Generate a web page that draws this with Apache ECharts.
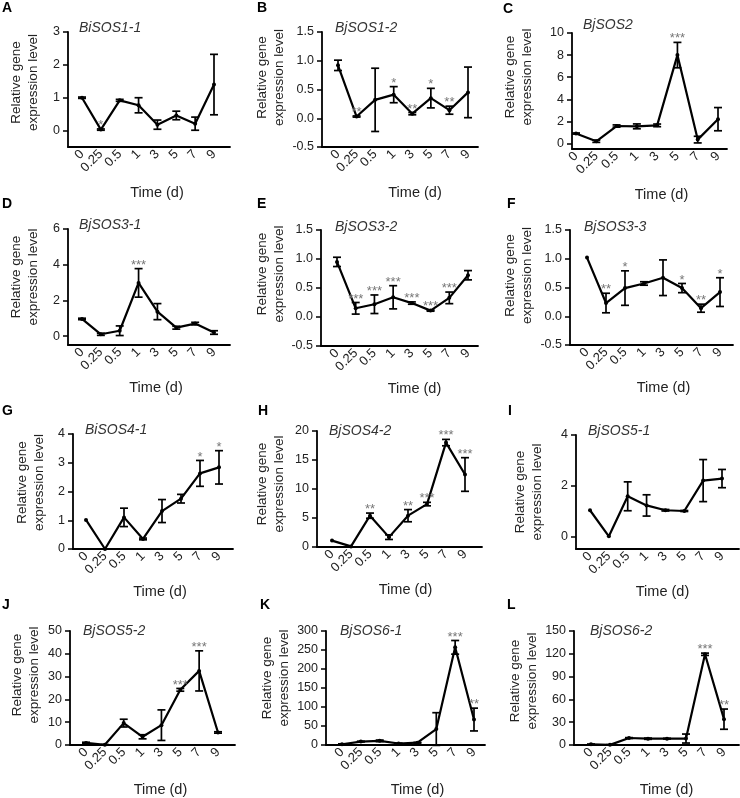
<!DOCTYPE html>
<html>
<head>
<meta charset="utf-8">
<script src="https://cdn.jsdelivr.net/npm/echarts@6/dist/echarts.min.js"></script>
<style>html,body{margin:0;padding:0;background:#fff}#c{width:740px;height:798px}</style>
</head>
<body>
<div id="c"></div>
<script>
// ---- data ----
const categories = ['0', '0.25', '0.5', '1', '3', '5', '7', '9'];

const meanA = [1.0, 0.03, 0.92, 0.77, 0.18, 0.46, 0.21, 1.4];
const semA  = [0.02, 0.02, 0.03, 0.23, 0.14, 0.13, 0.2, 0.92];
const starA = ['', '*', '', '', '', '', '', ''];

const meanB = [0.92, 0.03, 0.32, 0.41, 0.08, 0.35, 0.14, 0.45];
const semB  = [0.09, 0.01, 0.55, 0.14, 0.02, 0.17, 0.07, 0.44];
const starB = ['', '**', '', '*', '**', '*', '**', ''];

const meanC = [0.9, 0.2, 1.58, 1.55, 1.64, 8.0, 0.35, 2.2];
const semC  = [0.05, 0.1, 0.1, 0.22, 0.12, 1.15, 0.3, 1.05];
const starC = ['', '', '', '', '', '***', '', ''];

const meanD = [0.96, 0.1, 0.3, 2.98, 1.37, 0.47, 0.7, 0.2];
const semD  = [0.04, 0.06, 0.27, 0.8, 0.45, 0.08, 0.07, 0.1];
const starD = ['', '', '', '***', '', '', '', ''];

const meanE = [0.95, 0.15, 0.22, 0.34, 0.24, 0.11, 0.33, 0.72];
const semE  = [0.08, 0.1, 0.16, 0.2, 0.02, 0.01, 0.1, 0.08];
const starE = ['', '***', '***', '***', '***', '***', '***', ''];

const meanF = [1.02, 0.23, 0.49, 0.57, 0.67, 0.49, 0.14, 0.42];
const semF  = [0.0, 0.17, 0.3, 0.03, 0.31, 0.08, 0.07, 0.25];
const starF = ['', '**', '*', '', '', '*', '**', '*'];

const meanG = [1.01, 0.0, 1.1, 0.35, 1.32, 1.75, 2.63, 2.84];
const semG  = [0, 0, 0.32, 0.03, 0.4, 0.15, 0.45, 0.58];
const starG = ['', '', '', '', '', '', '*', '*'];

const meanH = [1.1, 0.1, 5.4, 1.7, 5.4, 7.4, 18.0, 12.5];
const semH  = [0, 0, 0.45, 0.4, 1.05, 0.3, 0.55, 2.9];
const starH = ['', '', '**', '', '**', '***', '***', '***'];

const meanI = [1.03, 0.0, 1.58, 1.22, 1.03, 1.0, 2.2, 2.28];
const semI  = [0, 0, 0.57, 0.42, 0.03, 0.02, 0.83, 0.36];
const starI = ['', '', '', '', '', '', '', ''];

const meanJ = [0.9, 0.1, 9.6, 3.6, 8.7, 24.2, 32.5, 5.5];
const semJ  = [0.3, 0.1, 1.7, 0.9, 6.7, 0.6, 8.8, 0.3];
const starJ = ['', '', '', '', '', '***', '***', ''];

const meanK = [2, 9, 11, 4, 6, 42, 257, 67];
const semK  = [1, 1, 2, 1, 1, 43, 18, 30];
const starK = ['', '', '', '', '', '', '***', '**'];

const meanL = [0.9, 0.2, 9.2, 8.3, 8.3, 8.5, 119.4, 34];
const semL  = [0.3, 0.2, 0.5, 0.8, 0.5, 5.9, 1.5, 13.3];
const starL = ['', '', '', '', '', '', '***', '**'];

const letters = ['A', 'B', 'C', 'D', 'E', 'F', 'G', 'H', 'I', 'J', 'K', 'L'];
const genes = ['BiSOS1-1', 'BjSOS1-2', 'BjSOS2', 'BjSOS3-1', 'BjSOS3-2', 'BjSOS3-3',
               'BiSOS4-1', 'BjSOS4-2', 'BjSOS5-1', 'BjSOS5-2', 'BjSOS6-1', 'BjSOS6-2'];

const yTicksA = [0, 1, 2, 3];
const yTicksB = [-0.5, 0, 0.5, 1, 1.5];
const yTicksC = [0, 2, 4, 6, 8, 10];
const yTicksD = [0, 2, 4, 6];
const yTicksE = [-0.5, 0, 0.5, 1, 1.5];
const yTicksF = [-0.5, 0, 0.5, 1, 1.5];
const yTicksG = [0, 1, 2, 3, 4];
const yTicksH = [0, 5, 10, 15, 20];
const yTicksI = [0, 2, 4];
const yTicksJ = [0, 10, 20, 30, 40, 50];
const yTicksK = [0, 50, 100, 150, 200, 250, 300];
const yTicksL = [0, 30, 60, 90, 120, 150];

const yMin = [-0.5, -0.5, -0.5, -0.5, -0.5, -0.5, 0, 0, -0.5, 0, 0, 0];
const yDecimals = [0, 1, 0, 0, 1, 1, 0, 0, 0, 0, 0, 0];

const xLabel = 'Time (d)';
const yLabel = 'Relative gene\nexpression level';

const means = [meanA, meanB, meanC, meanD, meanE, meanF, meanG, meanH, meanI, meanJ, meanK, meanL];
const sems  = [semA, semB, semC, semD, semE, semF, semG, semH, semI, semJ, semK, semL];
const stars = [starA, starB, starC, starD, starE, starF, starG, starH, starI, starJ, starK, starL];
const yTicks = [yTicksA, yTicksB, yTicksC, yTicksD, yTicksE, yTicksF, yTicksG, yTicksH, yTicksI, yTicksJ, yTicksK, yTicksL];

// ---- layout (pixels): [axisLeft, axisRight, firstPoint, lastPoint, top, bottom] ----
const layout = [
  [68, 230, 82, 214, 32, 147],
  [322, 478, 338, 468, 32, 147],
  [572, 727, 576, 718, 33, 149],
  [68, 230, 82, 214, 229, 345],
  [321, 478, 337, 468, 230, 346],
  [570, 733, 587, 720, 230, 345],
  [73, 233, 86, 219, 434, 549],
  [317, 482, 332, 465, 431, 547],
  [576, 739, 590, 722, 435, 549],
  [70, 235, 86, 218, 631, 746],
  [326, 485, 342, 474, 631, 746],
  [574, 739, 591, 724, 631, 746]
];
const yNameGap = [26, 34, 36, 26, 33, 34, 25, 29, 30, 27, 33, 33];
const yNameShift = [7, 12, 14, 10, 14, 12, 9, 5, 0, 13, 10, 7];
const xNameShift = [8, 15, 12, 7, 15, 12, 7, 6, 5, 8, 12, 10];
const xNameGap = [38, 38, 38, 35, 35, 35, 35, 35, 35, 37, 37, 37];
const letterPos = [[2, 8], [257, 8], [503, 9], [2, 204], [257, 204], [507, 204],
                   [2, 411], [258, 411], [508, 411], [2, 605], [260, 605], [507, 605]];
const titlePos = [[79, 28], [335, 28], [583, 25], [79, 225], [335, 227], [584, 227],
                  [85, 430], [329, 431], [588, 431], [83, 631], [340, 631], [590, 631]];

const FONT = "'Liberation Sans', Arial, sans-serif";
const grids = [], xAxes = [], yAxes = [], series = [], graphics = [];

function makeErr(p) {
  return function (params, api) {
    const i = api.value(0), m = api.value(1), s = api.value(2);
    const top = api.coord([i, m + s]);
    const bot = api.coord([i, m - s]);
    const mid = api.coord([i, m]);
    const cap = 4;
    const st = { stroke: '#000', lineWidth: 1.7 };
    const children = [];
    if (s > 0) {
      children.push({ type: 'line', shape: { x1: top[0], y1: top[1], x2: bot[0], y2: bot[1] }, style: st });
      children.push({ type: 'line', shape: { x1: top[0] - cap, y1: top[1], x2: top[0] + cap, y2: top[1] }, style: st });
      children.push({ type: 'line', shape: { x1: bot[0] - cap, y1: bot[1], x2: bot[0] + cap, y2: bot[1] }, style: st });
    }
    const star = stars[p][params.dataIndex];
    if (star) {
      children.push({
        type: 'text', x: mid[0], y: Math.min(top[1], mid[1]) + 3,
        style: { text: star, fill: '#777', font: '13px ' + FONT,
                 align: 'center', verticalAlign: 'bottom', textAlign: 'center', textVerticalAlign: 'bottom' }
      });
    }
    return { type: 'group', children: children };
  };
}

for (let p = 0; p < 12; p++) {
  const [L, R, p0, p7, T, B] = layout[p];
  const step = (p7 - p0) / (categories.length - 1);
  const xmin = -(p0 - L) / step;
  const xmax = (categories.length - 1) + (R - p7) / step;
  const ticks = yTicks[p];
  grids.push({ left: L, top: T, width: R - L, height: B - T });
  xAxes.push({
    type: 'value', gridIndex: p, min: xmin, max: xmax,
    name: xLabel, nameLocation: 'middle', nameGap: xNameGap[p],
    nameTextStyle: { fontFamily: FONT, fontSize: 14.5, color: '#222', padding: [0, 0, 0, 2 * xNameShift[p]] },
    axisLine: { onZero: false, lineStyle: { color: '#000', width: 1.8 } },
    axisTick: { show: false },
    splitLine: { show: false },
    axisLabel: {
      customValues: categories.map((c, i) => i),
      formatter: v => categories[Math.round(v)],
      rotate: 45, margin: 5, fontFamily: FONT, fontSize: 13, color: '#222'
    }
  });
  yAxes.push({
    type: 'value', gridIndex: p, min: yMin[p], max: ticks[ticks.length - 1],
    name: yLabel, nameLocation: 'middle', nameGap: yNameGap[p],
    nameTextStyle: { fontFamily: FONT, fontSize: 13.5, lineHeight: 17, color: '#222', padding: [0, 0, 0, 2 * yNameShift[p]] },
    axisLine: { show: true, onZero: false, lineStyle: { color: '#000', width: 1.8 } },
    axisTick: { show: true, customValues: ticks, length: 5, lineStyle: { color: '#000', width: 1.5 } },
    splitLine: { show: false },
    axisLabel: {
      customValues: ticks, formatter: v => Number(v).toFixed(yDecimals[p]),
      margin: 8, fontFamily: FONT, fontSize: 12.5, color: '#222'
    }
  });
  series.push({
    type: 'line', xAxisIndex: p, yAxisIndex: p,
    data: categories.map((c, i) => [i, means[p][i]]),
    symbol: 'circle', symbolSize: 4, showSymbol: true,
    lineStyle: { color: '#000', width: 2.2 }, itemStyle: { color: '#000' },
    animation: false, z: 3
  });
  series.push({
    type: 'custom', xAxisIndex: p, yAxisIndex: p,
    data: categories.map((c, i) => [i, means[p][i], sems[p][i]]),
    renderItem: makeErr(p), clip: false, animation: false, z: 4
  });
  graphics.push({
    type: 'text', x: letterPos[p][0], y: letterPos[p][1],
    style: { text: letters[p], font: 'bold 14px ' + FONT, fill: '#000', verticalAlign: 'middle', textVerticalAlign: 'middle' }
  });
  graphics.push({
    type: 'text', x: titlePos[p][0], y: titlePos[p][1],
    style: { text: genes[p], font: 'italic 14px ' + FONT, fill: '#333', verticalAlign: 'middle', textVerticalAlign: 'middle' }
  });
}

const chart = echarts.init(document.getElementById('c'), null, { renderer: 'canvas' });
chart.setOption({
  backgroundColor: '#fff',
  animation: false,
  grid: grids, xAxis: xAxes, yAxis: yAxes, series: series,
  graphic: { elements: graphics }
});
</script>
</body>
</html>
